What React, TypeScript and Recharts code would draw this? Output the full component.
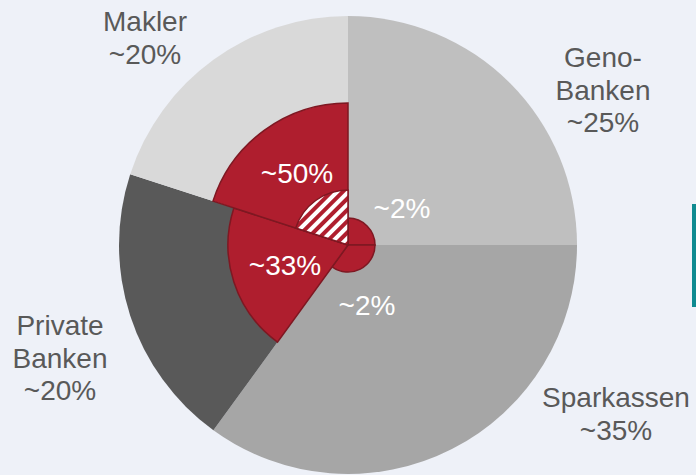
import React from 'react';
import { PieChart, Pie, Cell } from 'recharts';

// clockwise from 12 o'clock
const channels = ['Geno-Banken', 'Sparkassen', 'Private Banken', 'Makler'];
const marketShare = [25, 35, 20, 20];
const marketShareLabels = ['~25%', '~35%', '~20%', '~20%'];
const channelLabelLines = [['Geno-', 'Banken'], ['Sparkassen'], ['Private', 'Banken'], ['Makler']];
const digitalShare = [2, 2, 33, 50];
const digitalShareLabels = ['~2%', '~2%', '~33%', '~50%'];

const CX = 348;
const CY = 245;
const OUTER_R = 229;
const RED_R = [27, 27, 120, 142];
const HATCH_R = 55;

const GRAYS = ['#bfbfbf', '#a6a6a6', '#595959', '#d9d9d9'];
const RED = '#af1e2e';
const RED_DARK = '#7e1822';
const TEXT_GRAY = '#595959';
const FONT = '"Liberation Sans", Arial, sans-serif';

// first-baseline offsets from centre
const outerLabelPos = [
  [255, -178],
  [268, 162],
  [-288, 90],
  [-203, -214],
];
const innerLabelPos = [
  [54, -27],
  [19, 70],
  [-63, 30],
  [-51, -62],
];

const chartData = channels.map((name, i) => ({ name, value: marketShare[i], digital: digitalShare[i] }));

const renderOuterLabel = (props: any) => {
  const i = props.index;
  const [dx, dy] = outerLabelPos[i];
  const lines = [...channelLabelLines[i], marketShareLabels[i]];
  return (
    <text key={`ol-${i}`} x={CX + dx} y={CY + dy} textAnchor="middle" fill={TEXT_GRAY} fontSize={28} fontFamily={FONT}>
      {lines.map((l, j) => (
        <tspan key={j} x={CX + dx} dy={j === 0 ? 0 : 32.5}>{l}</tspan>
      ))}
    </text>
  );
};

const renderInnerLabel = (props: any) => {
  const i = props.index;
  const [dx, dy] = innerLabelPos[i];
  return (
    <text key={`il-${i}`} x={CX + dx} y={CY + dy} textAnchor="middle" fill="#ffffff" fontSize={28} fontFamily={FONT}>
      {digitalShareLabels[i]}
    </text>
  );
};

export default function App() {
  return (
    <div style={{ position: 'absolute', left: 0, top: 0, width: 696, height: 475, background: '#eef1f8', overflow: 'hidden' }}>
      <PieChart width={696} height={475} margin={{ top: 0, right: 0, bottom: 0, left: 0 }}>
        <defs>
          <pattern id="hatch" width="8" height="8" patternUnits="userSpaceOnUse" patternTransform="rotate(45)">
            <rect width="8" height="8" fill="#ffffff" />
            <rect width="4" height="8" fill={RED} />
          </pattern>
        </defs>
        <Pie
          data={chartData}
          dataKey="value"
          cx={CX}
          cy={CY}
          outerRadius={OUTER_R}
          startAngle={90}
          endAngle={-270}
          stroke="none"
          isAnimationActive={false}
          label={renderOuterLabel}
          labelLine={false}
        >
          {chartData.map((d, i) => (
            <Cell key={d.name} fill={GRAYS[i]} stroke="none" />
          ))}
        </Pie>
        {channels.map((ch, k) => (
          <Pie
            key={`red-${ch}`}
            data={chartData}
            dataKey="value"
            cx={CX}
            cy={CY}
            outerRadius={RED_R[k]}
            startAngle={90}
            endAngle={-270}
            isAnimationActive={false}
          >
            {chartData.map((d, i) => (
              <Cell
                key={d.name}
                fill={i === k ? RED : 'none'}
                stroke={i === k ? RED_DARK : 'none'}
                strokeWidth={1.5}
              />
            ))}
          </Pie>
        ))}
        <Pie
          data={chartData}
          dataKey="value"
          cx={CX}
          cy={CY}
          outerRadius={HATCH_R}
          startAngle={90}
          endAngle={-270}
          isAnimationActive={false}
          label={renderInnerLabel}
          labelLine={false}
        >
          {chartData.map((d, i) => (
            <Cell
              key={d.name}
              fill={i === 3 ? 'url(#hatch)' : 'none'}
              stroke={i === 3 ? RED_DARK : 'none'}
              strokeWidth={1.5}
            />
          ))}
        </Pie>
      </PieChart>
      <div style={{ position: 'absolute', left: 692, top: 204, width: 4, height: 103, background: '#0f8b91' }} />
    </div>
  );
}
